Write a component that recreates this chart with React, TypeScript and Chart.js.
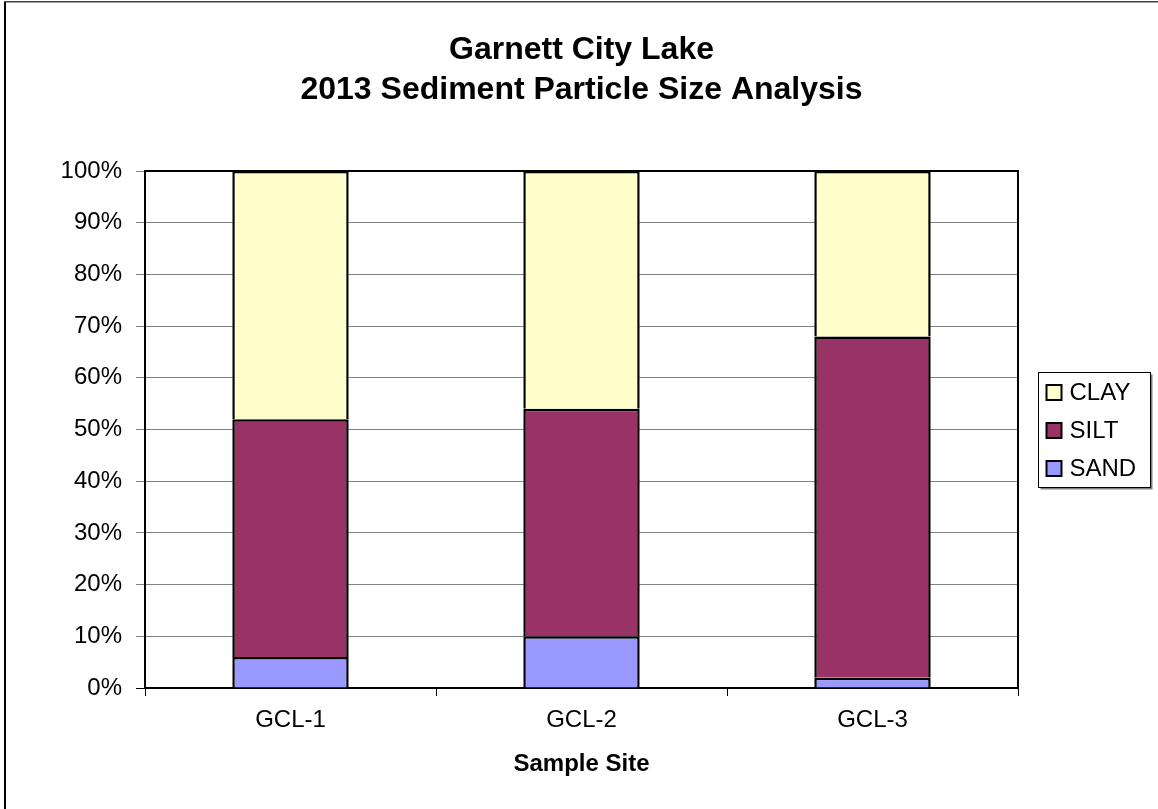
import React, { useEffect, useRef } from "react";
import { Chart, registerables } from "chart.js";

Chart.register(...registerables);

const sites = ["GCL-1", "GCL-2", "GCL-3"];
const sand = [6, 10, 2];
const silt = [46, 44, 66];
const clay = [48, 46, 32];
const yTicks = [0, 10, 20, 30, 40, 50, 60, 70, 80, 90, 100];
const titleLines = ["Garnett City Lake", "2013 Sediment Particle Size Analysis"];
const xTitle = "Sample Site";

const FONT = "'Liberation Sans', Arial, sans-serif";
const W = 1158;
const H = 809;

// Outer frame around the chart canvas
const framePlugin = {
  id: "frame",
  afterDraw(chart: any) {
    const ctx = chart.ctx;
    ctx.save();
    ctx.strokeStyle = "#000";
    ctx.lineWidth = 2;
    ctx.beginPath();
    ctx.moveTo(5, H);
    ctx.lineTo(5, 2);
    ctx.stroke();
    ctx.strokeStyle = "#404040";
    ctx.lineWidth = 1.5;
    ctx.beginPath();
    ctx.moveTo(4, 1.75);
    ctx.lineTo(W, 1.75);
    ctx.stroke();
    ctx.restore();
  },
};

// Two-line title centred over the plot area
const titlePlugin = {
  id: "twoLineTitle",
  afterDraw(chart: any) {
    const ctx = chart.ctx;
    const a = chart.chartArea;
    const cx = (a.left + a.right) / 2;
    ctx.save();
    ctx.fillStyle = "#000";
    ctx.font = `bold 32px ${FONT}`;
    ctx.textAlign = "center";
    ctx.textBaseline = "alphabetic";
    const baselines = [59, 99];
    titleLines.forEach((t, i) => ctx.fillText(t, cx, baselines[i]));
    ctx.restore();
  },
};

// Top and right edges of the plot frame
const plotBorderPlugin = {
  id: "plotBorder",
  afterDatasetsDraw(chart: any) {
    const { ctx, chartArea: a } = chart;
    ctx.save();
    ctx.strokeStyle = "#000";
    ctx.lineWidth = 2;
    ctx.beginPath();
    ctx.moveTo(a.left, a.top);
    ctx.lineTo(a.right, a.top);
    ctx.lineTo(a.right, a.bottom);
    ctx.stroke();
    ctx.restore();
  },
};

// Boxed legend with drop shadow, listed top stack first
const boxLegendPlugin = {
  id: "boxLegend",
  afterDraw(chart: any) {
    const ctx = chart.ctx;
    const area = chart.chartArea;
    const items = chart.data.datasets.map((d: any) => d).reverse();
    const rowH = 38;
    const boxW = 112;
    const boxH = items.length * rowH + 1;
    const x0 = area.right + 20.5;
    const cy = (area.top + area.bottom) / 2;
    const y0 = Math.round(cy - boxH / 2) + 0.5;
    ctx.save();
    ctx.fillStyle = "#808080";
    ctx.fillRect(x0 + 2, y0 + 2, boxW, boxH);
    ctx.fillStyle = "#fff";
    ctx.fillRect(x0, y0, boxW, boxH);
    ctx.strokeStyle = "#000";
    ctx.lineWidth = 1;
    ctx.strokeRect(x0, y0, boxW, boxH);
    ctx.font = `24px ${FONT}`;
    ctx.textBaseline = "middle";
    items.forEach((d: any, i: number) => {
      const ry = y0 + rowH * i + rowH / 2 + 1;
      const s = 15;
      ctx.fillStyle = d.backgroundColor;
      ctx.fillRect(x0 + 8, ry - s / 2, s, s);
      ctx.lineWidth = 2;
      ctx.strokeStyle = "#000";
      ctx.strokeRect(x0 + 8, ry - s / 2, s, s);
      ctx.fillStyle = "#000";
      ctx.fillText(d.label, x0 + 31, ry + 1);
    });
    ctx.restore();
  },
};

export default function App() {
  const ref = useRef<HTMLCanvasElement | null>(null);

  useEffect(() => {
    if (!ref.current) return;
    const common = {
      borderColor: "#000",
      borderWidth: 2.5,
      borderSkipped: "start",
      barPercentage: 0.4,
      categoryPercentage: 1,
    };
    const chart = new Chart(ref.current, {
      type: "bar",
      data: {
        labels: sites,
        datasets: [
          { label: "SAND", data: sand, backgroundColor: "#9999FF", ...common },
          { label: "SILT", data: silt, backgroundColor: "#993366", ...common },
          { label: "CLAY", data: clay, backgroundColor: "#FFFFCC", ...common },
        ],
      },
      options: {
        responsive: false,
        animation: false,
        layout: { padding: { left: 0, right: 140, top: 171, bottom: 0 } },
        plugins: {
          legend: { display: false },
          tooltip: { enabled: false },
          title: { display: false },
        },
        scales: {
          x: {
            stacked: true,
            afterFit: (s: any) => {
              s.height = H - 688;
            },
            grid: {
              offset: true,
              drawOnChartArea: false,
              drawTicks: true,
              tickLength: 8,
              color: "#000",
            },
            border: { display: true, color: "#000", width: 2 },
            ticks: { color: "#000", font: { family: FONT, size: 24 }, padding: 10 },
            title: {
              display: true,
              text: xTitle,
              color: "#000",
              font: { family: FONT, size: 24, weight: "bold" },
              padding: { top: 0, bottom: 30 },
            },
          },
          y: {
            stacked: true,
            min: 0,
            max: 100,
            afterFit: (s: any) => {
              s.width = 145;
            },
            afterBuildTicks: (s: any) => {
              s.ticks = yTicks.map((v) => ({ value: v }));
            },
            grid: {
              color: (c: any) => (c.tick && c.tick.value === 0 ? "#000" : "#808080"),
              lineWidth: 1,
              tickLength: 9,
            },
            border: { display: true, color: "#000", width: 2 },
            ticks: {
              color: "#000",
              font: { family: FONT, size: 24 },
              padding: 14,
              callback: (v: any) => `${v}%`,
            },
          },
        },
      },
      plugins: [plotBorderPlugin, titlePlugin, boxLegendPlugin, framePlugin],
    } as any);
    return () => chart.destroy();
  }, []);

  return (
    <div style={{ position: "absolute", left: 0, top: 0, width: W, height: H, background: "#fff" }}>
      <canvas ref={ref} width={W} height={H} style={{ display: "block" }} />
    </div>
  );
}
